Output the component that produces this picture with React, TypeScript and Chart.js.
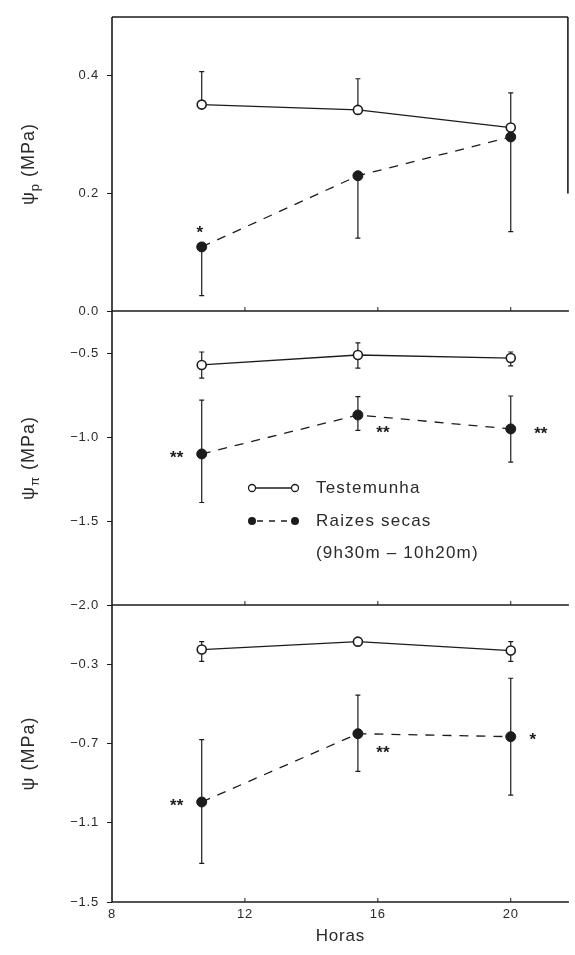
import React, { useEffect, useRef } from "react";
import { Chart, registerables } from "chart.js";

Chart.register(...registerables);

// ---------- data ----------
const hours = [10.7, 15.4, 20.0];
const xTickValues = [8, 12, 16, 20];
const xMin = 8;
const xMax = 21.75;

const seriesNames = ["Testemunha", "Raizes secas"];
const legendNote = "(9h30m – 10h20m)";
const xTitle = "Horas";
const yUnit = " (MPa)";
const yTitleMain = ["ψ", "ψ", "ψ"];
const yTitleSub = ["p", "π", ""];

// Panel 1: turgor potential
const p1Ticks = [0.0, 0.2, 0.4];
const p1Range = [0, 0.5];
const p1Test = [0.351, 0.342, 0.312];
const p1TestHi = [0.407, 0.395, 0.371];
const p1TestLo = [null, null, null];
const p1Dry = [0.109, 0.23, 0.296];
const p1DryHi = [null, null, null];
const p1DryLo = [0.026, 0.124, 0.135];
const p1Sig = ["*", "", ""];

// Panel 2: osmotic potential
const p2Ticks = [-2.0, -1.5, -1.0, -0.5];
const p2Range = [-2.0, -0.25];
const p2Test = [-0.571, -0.512, -0.53];
const p2TestHi = [-0.494, -0.44, -0.494];
const p2TestLo = [-0.649, -0.59, -0.577];
const p2Dry = [-1.101, -0.869, -0.952];
const p2DryHi = [-0.78, -0.76, -0.756];
const p2DryLo = [-1.39, -0.96, -1.15];
const p2Sig = ["**", "**", "**"];

// Panel 3: water potential
const p3Ticks = [-1.5, -1.1, -0.7, -0.3];
const p3Range = [-1.5, 0.0];
const p3Test = [-0.225, -0.185, -0.23];
const p3TestHi = [-0.185, null, -0.185];
const p3TestLo = [-0.285, null, -0.285];
const p3Dry = [-0.995, -0.65, -0.665];
const p3DryHi = [-0.68, -0.455, -0.37];
const p3DryLo = [-1.305, -0.84, -0.96];
const p3Sig = ["**", "**", "*"];

// ---------- style ----------
const FONT = "'Liberation Sans', Arial, sans-serif";
const INK = "#1c1c1c";
const W = 575;
const AXIS_W = 112;

type Spec = {
  top: number;
  height: number;
  padTop: number;
  padBottom: number;
  range: number[];
  ticks: number[];
  test: number[];
  testHi: (number | null)[];
  testLo: (number | null)[];
  dry: number[];
  dryHi: (number | null)[];
  dryLo: (number | null)[];
  sig: string[];
  sigOff: number[][];
  idx: number;
  showX: boolean;
  frameTop: boolean;
  frameRight: boolean;
  legend: boolean;
};

const specs: Spec[] = [
  {
    top: 0, height: 330, padTop: 17, padBottom: 19,
    range: p1Range, ticks: p1Ticks,
    test: p1Test, testHi: p1TestHi, testLo: p1TestLo,
    dry: p1Dry, dryHi: p1DryHi, dryLo: p1DryLo,
    sig: p1Sig, sigOff: [[-2, -18], [0, 0], [0, 0]],
    idx: 0, showX: false, frameTop: true, frameRight: true, legend: false,
  },
  {
    top: 290, height: 335, padTop: 21, padBottom: 20,
    range: p2Range, ticks: p2Ticks,
    test: p2Test, testHi: p2TestHi, testLo: p2TestLo,
    dry: p2Dry, dryHi: p2DryHi, dryLo: p2DryLo,
    sig: p2Sig, sigOff: [[-25, 0], [25, 14], [30, 1]],
    idx: 1, showX: false, frameTop: false, frameRight: false, legend: true,
  },
  {
    top: 585, height: 370, padTop: 20, padBottom: 0,
    range: p3Range, ticks: p3Ticks,
    test: p3Test, testHi: p3TestHi, testLo: p3TestLo,
    dry: p3Dry, dryHi: p3DryHi, dryLo: p3DryLo,
    sig: p3Sig, sigOff: [[-25, 0], [25, 16], [22, 0]],
    idx: 2, showX: true, frameTop: false, frameRight: false, legend: false,
  },
];

const fmt = (v: number) => (v < 0 ? "−" : "") + Math.abs(v).toFixed(1);

function makePlugin(spec: Spec) {
  return {
    id: "panelDecor" + spec.idx,
    beforeDraw(chart: any) {
      chart.ctx.letterSpacing = "0.8px";
    },
    beforeDatasetsDraw(chart: any) {
      const ctx = chart.ctx;
      const xs = chart.scales.x;
      const ys = chart.scales.y;
      ctx.save();
      ctx.strokeStyle = INK;
      ctx.lineWidth = 1.2;
      const bars = [
        [spec.test, spec.testHi, spec.testLo],
        [spec.dry, spec.dryHi, spec.dryLo],
      ] as any[];
      for (const [vals, hi, lo] of bars) {
        vals.forEach((v: number, i: number) => {
          const px = xs.getPixelForValue(hours[i]);
          const py = ys.getPixelForValue(v);
          for (const e of [hi[i], lo[i]]) {
            if (e === null || e === undefined) continue;
            const ey = ys.getPixelForValue(e);
            ctx.beginPath();
            ctx.moveTo(px, py);
            ctx.lineTo(px, ey);
            ctx.moveTo(px - 2.5, ey);
            ctx.lineTo(px + 2.5, ey);
            ctx.stroke();
          }
        });
      }
      ctx.restore();
    },
    afterDraw(chart: any) {
      const ctx = chart.ctx;
      const ca = chart.chartArea;
      const xs = chart.scales.x;
      const ys = chart.scales.y;
      ctx.save();
      ctx.letterSpacing = "0px";
      // frame
      ctx.strokeStyle = INK;
      ctx.lineWidth = 1.6;
      ctx.beginPath();
      ctx.moveTo(ca.left, ca.top);
      ctx.lineTo(ca.left, ca.bottom);
      ctx.lineTo(ca.right, ca.bottom);
      if (spec.frameTop) {
        ctx.moveTo(ca.left, ca.top);
        ctx.lineTo(ca.right - 1, ca.top);
      }
      if (spec.frameRight) {
        ctx.moveTo(ca.right - 1, ca.top);
        ctx.lineTo(ca.right - 1, ca.top + (ca.bottom - ca.top) * 0.6);
      }
      ctx.stroke();
      // small inward ticks on bottom line
      ctx.lineWidth = 1;
      ctx.beginPath();
      xTickValues.slice(1).forEach((v) => {
        const x = xs.getPixelForValue(v);
        ctx.moveTo(x, ca.bottom);
        ctx.lineTo(x, ca.bottom - 4);
      });
      ctx.stroke();

      // significance marks
      ctx.fillStyle = INK;
      ctx.font = `bold 17px ${FONT}`;
      ctx.textAlign = "center";
      ctx.textBaseline = "middle";
      ctx.letterSpacing = "0px";
      spec.sig.forEach((s, i) => {
        if (!s) return;
        const px = xs.getPixelForValue(hours[i]) + spec.sigOff[i][0];
        const py = ys.getPixelForValue(spec.dry[i]) + spec.sigOff[i][1] + 4;
        ctx.fillText(s, px, py);
      });

      // y title with subscript
      const main = yTitleMain[spec.idx];
      const sub = yTitleSub[spec.idx];
      ctx.letterSpacing = "1px";
      ctx.save();
      ctx.translate(28, (ca.top + ca.bottom) / 2);
      ctx.rotate(-Math.PI / 2);
      ctx.textAlign = "left";
      ctx.textBaseline = "alphabetic";
      const fMain = `18px ${FONT}`;
      const fSub = `13px ${FONT}`;
      ctx.font = fMain;
      const w1 = ctx.measureText(main).width;
      const w3 = ctx.measureText(yUnit).width;
      ctx.font = fSub;
      const w2 = sub ? ctx.measureText(sub).width : 0;
      let x0 = -(w1 + w2 + w3) / 2;
      ctx.fillStyle = "#2a2a2a";
      ctx.font = fMain;
      ctx.fillText(main, x0, 6);
      x0 += w1;
      if (sub) {
        ctx.font = fSub;
        ctx.fillText(sub, x0, 11);
        x0 += w2;
      }
      ctx.font = fMain;
      ctx.fillText(yUnit, x0, 6);
      ctx.restore();

      // legend
      if (spec.legend) {
        const rows = [198, 231];
        const cx1 = 252;
        const cx2 = 295;
        ctx.strokeStyle = INK;
        ctx.lineWidth = 1.3;
        ctx.beginPath();
        ctx.moveTo(cx1 + 4, rows[0]);
        ctx.lineTo(cx2 - 4, rows[0]);
        ctx.stroke();
        for (const cx of [cx1, cx2]) {
          ctx.beginPath();
          ctx.arc(cx, rows[0], 3.5, 0, Math.PI * 2);
          ctx.fillStyle = "#fff";
          ctx.fill();
          ctx.stroke();
        }
        ctx.save();
        ctx.setLineDash([6, 6]);
        ctx.beginPath();
        ctx.moveTo(cx1 + 5, rows[1]);
        ctx.lineTo(cx2 - 5, rows[1]);
        ctx.stroke();
        ctx.restore();
        ctx.fillStyle = INK;
        for (const cx of [cx1, cx2]) {
          ctx.beginPath();
          ctx.arc(cx, rows[1], 4, 0, Math.PI * 2);
          ctx.fill();
        }
        ctx.fillStyle = "#2a2a2a";
        ctx.font = `17px ${FONT}`;
        ctx.textAlign = "left";
        ctx.textBaseline = "middle";
        ctx.letterSpacing = "1.2px";
        ctx.fillText(seriesNames[0], 316, rows[0]);
        ctx.fillText(seriesNames[1], 316, rows[1]);
        ctx.fillText(legendNote, 316, rows[1] + 32);
      }
      ctx.restore();
    },
  };
}

function Panel({ spec }: { spec: Spec }) {
  const ref = useRef<HTMLCanvasElement | null>(null);
  useEffect(() => {
    if (!ref.current) return;
    const pts = (vals: number[]) => vals.map((v, i) => ({ x: hours[i], y: v }));
    const chart = new Chart(ref.current, {
      type: "scatter",
      data: {
        datasets: [
          {
            label: seriesNames[0],
            data: pts(spec.test),
            showLine: true,
            borderColor: INK,
            borderWidth: 1.3,
            pointRadius: 4.5,
            pointBorderWidth: 1.6,
            pointBackgroundColor: "#ffffff",
            pointBorderColor: INK,
          },
          {
            label: seriesNames[1],
            data: pts(spec.dry),
            showLine: true,
            borderColor: INK,
            borderWidth: 1.3,
            borderDash: [9, 8],
            pointRadius: 5,
            pointBorderWidth: 1,
            pointBackgroundColor: INK,
            pointBorderColor: INK,
          },
        ],
      },
      options: {
        responsive: false,
        animation: false,
        layout: { padding: { top: spec.padTop, bottom: spec.padBottom, left: 0, right: 0 } },
        plugins: { legend: { display: false }, tooltip: { enabled: false } },
        scales: {
          x: {
            type: "linear",
            min: xMin,
            max: xMax,
            display: spec.showX,
            afterBuildTicks: (s: any) => {
              s.ticks = xTickValues.map((v) => ({ value: v }));
            },
            afterFit: (s: any) => {
              if (spec.showX) s.height = 53;
            },
            grid: { display: false, drawTicks: false },
            border: { display: false },
            ticks: {
              color: "#2a2a2a",
              font: { family: FONT, size: 13 },
              padding: 5,
              maxRotation: 0,
              callback: (v: any) => String(v),
            },
            title: {
              display: true,
              text: xTitle,
              color: "#2a2a2a",
              font: { family: FONT, size: 17 },
              padding: { top: 0, bottom: 8 },
            },
          },
          y: {
            type: "linear",
            min: spec.range[0],
            max: spec.range[1],
            afterBuildTicks: (s: any) => {
              s.ticks = spec.ticks.map((v) => ({ value: v }));
            },
            afterFit: (s: any) => {
              s.width = AXIS_W;
            },
            grid: {
              display: true,
              drawOnChartArea: false,
              drawTicks: true,
              tickLength: 5,
              color: INK,
              lineWidth: 1,
            },
            border: { display: false },
            ticks: {
              color: "#2a2a2a",
              font: { family: FONT, size: 13 },
              padding: 8,
              callback: (v: any) => fmt(Number(v)),
            },
          },
        },
      },
      plugins: [makePlugin(spec)],
    });
    return () => chart.destroy();
  }, [spec]);
  return (
    <canvas
      ref={ref}
      width={W}
      height={spec.height}
      style={{ position: "absolute", left: 0, top: spec.top, width: W, height: spec.height }}
    />
  );
}

export default function App() {
  return (
    <div
      style={{
        position: "fixed",
        left: 0,
        top: 0,
        width: W,
        height: 955,
        background: "#ffffff",
        overflow: "hidden",
      }}
    >
      {specs.map((s) => (
        <Panel key={s.idx} spec={s} />
      ))}
    </div>
  );
}
